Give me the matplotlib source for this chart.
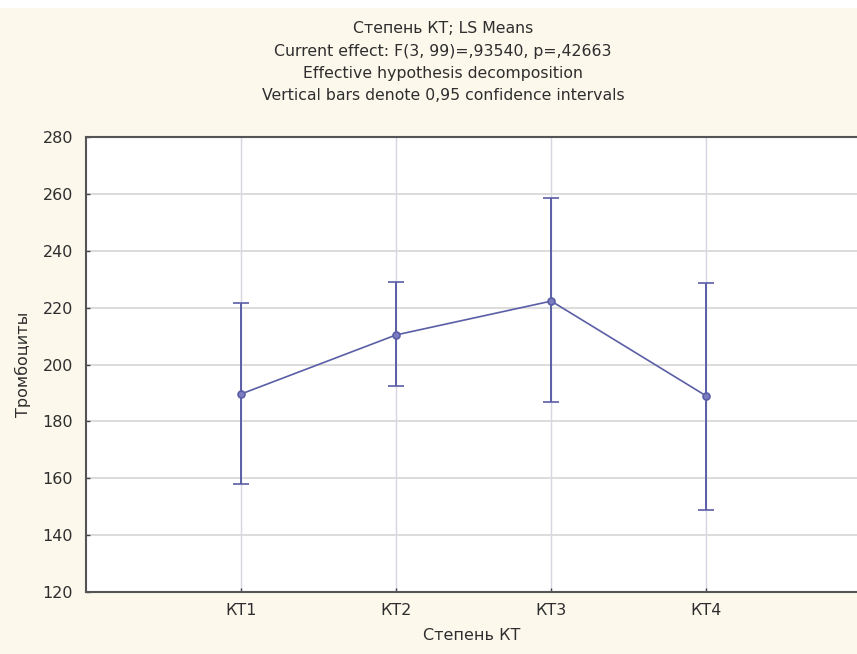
import numpy as np
import matplotlib.pyplot as plt

# LS means and 0.95 CI limits
groups = ["КТ1", "КТ2", "КТ3", "КТ4"]
means = [189.6, 210.4, 222.3, 188.9]
ci_low = [157.9, 192.6, 186.7, 149.0]
ci_high = [221.5, 228.9, 258.4, 228.8]
yticks = [120, 140, 160, 180, 200, 220, 240, 260, 280]

title_lines = [
    "Степень КТ; LS Means",
    "Current effect: F(3, 99)=,93540, p=,42663",
    "Effective hypothesis decomposition",
    "Vertical bars denote 0,95 confidence intervals",
]

plt.rcParams['font.family'] = ['DejaVu Sans']

bg = "#fcf8ec"
col = "#5a5ea6"
txt = "#2e2e2e"

fig = plt.figure(figsize=(8.57, 6.54), dpi=100, facecolor=bg)
# white strip at very top (scan edge)
fig.patches.append(plt.Rectangle((0, 0.988), 1, 0.012, transform=fig.transFigure,
                                 facecolor="white", edgecolor="none", zorder=0))

ax = fig.add_axes([0.1, 0.0948, 0.9, 0.6957])
ax.set_facecolor("white")

x = np.arange(1, len(groups) + 1)
m = np.array(means)
yerr = [m - np.array(ci_low), np.array(ci_high) - m]

ax.errorbar(x, m, yerr=yerr, color=col, lw=1.2, marker="o", ms=5,
            mfc="#7a7ec0", mec=col, mew=1.2, capsize=6, capthick=1.4,
            elinewidth=1.4, zorder=3)

ax.set_xlim(0, 4.97)
ax.set_ylim(120, 280)
ax.set_xticks(x)
ax.set_xticklabels(groups)
ax.set_yticks(yticks)

ax.grid(axis="y", color="#dcdcdc", lw=1.4)
ax.grid(axis="x", color="#d6d6e4", lw=1.0)
ax.set_axisbelow(True)

for s in ["left", "bottom", "top"]:
    ax.spines[s].set_color("#555555")
    ax.spines[s].set_linewidth(1.5)
ax.spines["right"].set_visible(False)

ax.tick_params(axis="both", direction="in", length=3, width=1, color="#444444",
               labelsize=11.5, labelcolor=txt)
ax.tick_params(axis="y", pad=9)
ax.tick_params(axis="x", pad=8)

ax.set_xlabel("Степень КТ", fontsize=11.5, color=txt, labelpad=7)
ax.set_ylabel("Тромбоциты", fontsize=11.5, color=txt, labelpad=8)

ys = [0.9557, 0.9205, 0.8869, 0.8547]
for t, yy in zip(title_lines, ys):
    fig.text(0.517, yy, t, ha="center", va="center", fontsize=11.3, color=txt)

fig.savefig("out.png", dpi=100, facecolor=bg)
